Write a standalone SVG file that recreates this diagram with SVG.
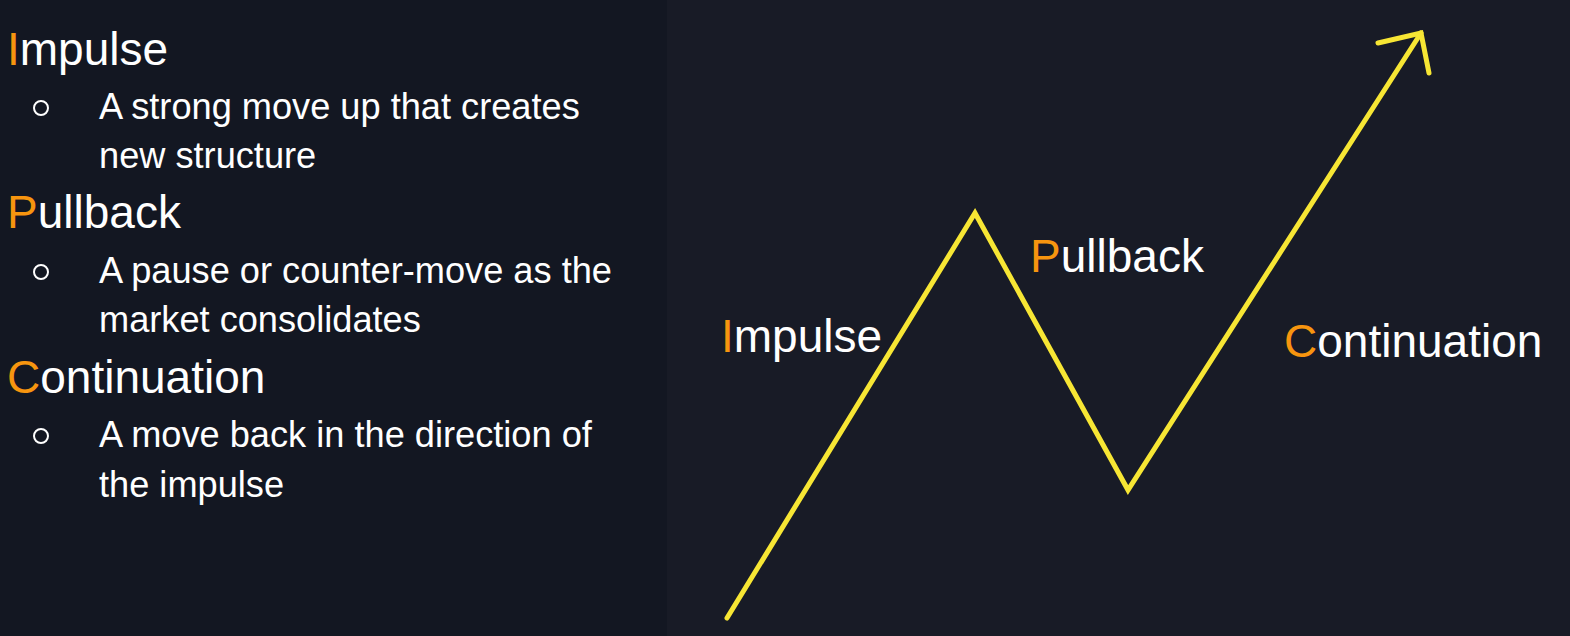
<svg xmlns="http://www.w3.org/2000/svg" width="1570" height="636" viewBox="0 0 1570 636">
<style>
text{font-family:"Liberation Sans",Arial,sans-serif;fill:#ffffff}
.h{font-size:46px}
.b{font-size:36.2px}
.o{fill:#f7950f}
.dot{fill:none;stroke:#ffffff;stroke-width:2}
.ln{fill:none;stroke:#f7e634;stroke-width:5;stroke-linecap:round;stroke-linejoin:miter}
</style>
<rect x="0" y="0" width="1570" height="636" fill="#181b26"/>
<rect x="0" y="0" width="667" height="636" fill="#131722"/>
<g id="list">
<text class="h" x="7" y="65"><tspan class="o">I</tspan>mpulse</text>
<circle class="dot" cx="41" cy="108" r="7"/>
<text class="b" x="99" y="119">A strong move up that creates</text>
<text class="b" x="99" y="168">new structure</text>
<text class="h" x="7" y="228"><tspan class="o">P</tspan>ullback</text>
<circle class="dot" cx="41" cy="272" r="7"/>
<text class="b" x="99" y="283">A pause or counter-move as the</text>
<text class="b" x="99" y="332">market consolidates</text>
<text class="h" x="7" y="393"><tspan class="o">C</tspan>ontinuation</text>
<circle class="dot" cx="41" cy="436" r="7"/>
<text class="b" x="99" y="447">A move back in the direction of</text>
<text class="b" x="99" y="497">the impulse</text>
</g>
<g id="connectors">
<polyline class="ln" points="727,618 975,213 1128,490 1421,33"/>
<polyline class="ln" points="1378,43 1421,33 1429,73"/>
</g>
<g id="label-impulse"><text class="h" x="721" y="352"><tspan class="o">I</tspan>mpulse</text></g>
<g id="label-pullback"><text class="h" x="1030" y="272"><tspan class="o">P</tspan>ullback</text></g>
<g id="label-continuation"><text class="h" x="1284" y="357"><tspan class="o">C</tspan>ontinuation</text></g>
</svg>
